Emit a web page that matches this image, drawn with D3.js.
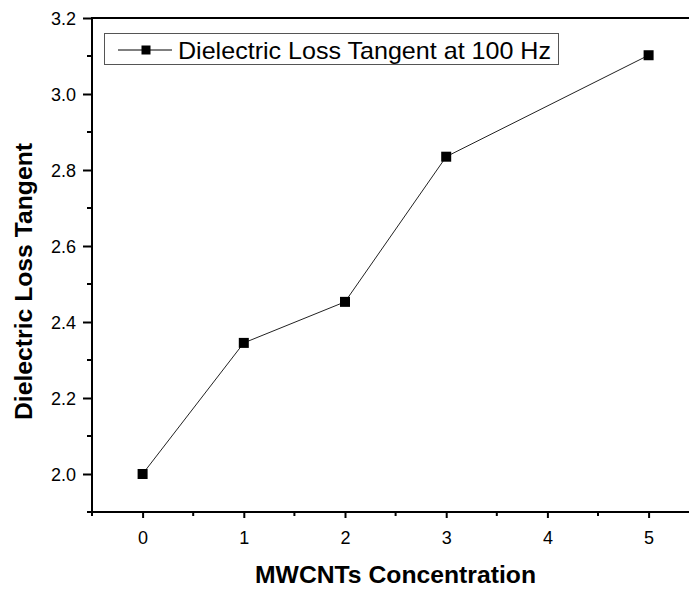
<!DOCTYPE html>
<html><head><meta charset="utf-8">
<script src="https://cdn.jsdelivr.net/npm/d3@7"></script>
<style>body{margin:0;background:#fff}svg{display:block}text{font-family:"Liberation Sans",Arial,sans-serif}</style>
</head><body>
<svg id="c" width="689" height="590"></svg>
<script>
const concentrations = [0, 1, 2, 3, 5];
const lossTangent = [2.0, 2.345, 2.453, 2.835, 3.102];
const xTicks = [0, 1, 2, 3, 4, 5];
const yTicks = [2.0, 2.2, 2.4, 2.6, 2.8, 3.0, 3.2];
const seriesName = "Dielectric Loss Tangent at 100 Hz";

const svg = d3.select("#c");
const L = 92, T = 18, B = 512;
const x = d3.scaleLinear().domain([-0.5, 5.5]).range([L, L + 607.2]);
const y = d3.scaleLinear().domain([1.9, 3.2]).range([B, T]);

// frame top
svg.append("line").attr("x1", L).attr("x2", 689).attr("y1", T).attr("y2", T).attr("stroke", "#000").attr("stroke-width", 2);

const xMinor = d3.range(-0.5, 5.51, 0.5).filter(v => !xTicks.includes(v));
const yMinor = d3.range(1.9, 3.21, 0.1).map(v => +v.toFixed(1)).filter(v => !yTicks.includes(v));

const xAxis = svg.append("g").attr("transform", `translate(0,${B})`)
  .call(d3.axisBottom(x).tickValues(xTicks).tickFormat(d3.format("d")).tickSize(6).tickPadding(6));
xAxis.select(".domain").attr("stroke-width", 2).attr("d", `M${L},0H689`);
xAxis.selectAll(".tick line").attr("stroke-width", 2);
xAxis.selectAll("text").attr("font-size", 18).attr("fill", "#000").attr("y", 32).attr("dy", 0);
xAxis.selectAll(".minor").data(xMinor).enter().append("line").attr("class", "minor")
  .attr("x1", d => x(d)).attr("x2", d => x(d)).attr("y1", 0).attr("y2", 4).attr("stroke", "#000").attr("stroke-width", 2);

const yAxis = svg.append("g").attr("transform", `translate(${L},0)`)
  .call(d3.axisLeft(y).tickValues(yTicks).tickFormat(d3.format(".1f")).tickSize(9).tickPadding(7));
yAxis.select(".domain").attr("stroke-width", 2).attr("d", `M0,${B + 1}V${T - 1}`);
yAxis.selectAll(".tick line").attr("stroke-width", 2);
yAxis.selectAll("text").attr("font-size", 18).attr("fill", "#000").attr("dy", "0.36em");
yAxis.selectAll(".minor").data(yMinor).enter().append("line").attr("class", "minor")
  .attr("x1", 0).attr("x2", -5).attr("y1", d => y(d)).attr("y2", d => y(d)).attr("stroke", "#000").attr("stroke-width", 2);

// series
const pts = concentrations.map((c, i) => [c, lossTangent[i]]);
svg.append("path").datum(pts)
  .attr("d", d3.line().x(d => x(d[0])).y(d => y(d[1])))
  .attr("fill", "none").attr("stroke", "#222").attr("stroke-width", 1);
svg.selectAll(".pt").data(pts).enter().append("rect").attr("class", "pt")
  .attr("x", d => x(d[0]) - 5).attr("y", d => y(d[1]) - 5).attr("width", 10).attr("height", 10).attr("fill", "#000");

// legend
const lg = svg.append("g");
lg.append("rect").attr("x", 104.5).attr("y", 33.5).attr("width", 454).attr("height", 31).attr("fill", "#fff").attr("stroke", "#555").attr("stroke-width", 1);
lg.append("line").attr("x1", 118).attr("x2", 172).attr("y1", 50).attr("y2", 50).attr("stroke", "#000").attr("stroke-width", 1);
lg.append("rect").attr("x", 141.5).attr("y", 45.5).attr("width", 9).attr("height", 9).attr("fill", "#000");
lg.append("text").attr("x", 178).attr("y", 58.5).attr("font-size", 24).attr("fill", "#000")
  .attr("textLength", 373).attr("lengthAdjust", "spacingAndGlyphs").text(seriesName);

// axis titles
svg.append("text").attr("x", 395.5).attr("y", 583).attr("text-anchor", "middle").attr("font-size", 24).attr("font-weight", "bold")
  .attr("textLength", 281).attr("lengthAdjust", "spacingAndGlyphs").text("MWCNTs Concentration");
svg.append("text").attr("transform", "translate(32,281.5) rotate(-90)").attr("text-anchor", "middle").attr("font-size", 24.5).attr("font-weight", "bold")
  .attr("textLength", 277).attr("lengthAdjust", "spacingAndGlyphs").text("Dielectric Loss Tangent");
</script>
</body></html>
